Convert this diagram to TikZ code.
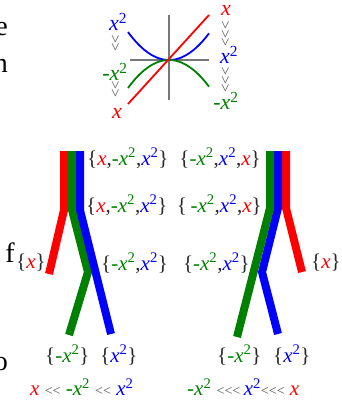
\documentclass[tikz,border=0pt]{standalone}
\usepackage{fontspec}
\setmainfont{Liberation Serif}
\definecolor{myred}{RGB}{255,0,0}
\definecolor{mygreen}{RGB}{0,128,0}
\definecolor{myblue}{RGB}{0,0,255}
\definecolor{ltgray}{RGB}{80,80,80}
\definecolor{brk}{RGB}{40,40,40}
\definecolor{axgray}{RGB}{120,120,120}
\newcommand\Rx{\textcolor{myred}{\textit{x}}}
\newcommand\Bx{\textcolor{myblue}{\textit{x}\textsuperscript{2}}}
\newcommand\Gx{\textcolor{mygreen}{-\textit{x}\textsuperscript{2}}}
\newcommand\Lb{\textcolor{brk}{\{}}
\newcommand\Rb{\textcolor{brk}{\}}}
\newcommand\Cm{\textcolor{brk}{,}}
\newcommand\LLtwo{{\fontsize{14}{14}\selectfont\textcolor{ltgray}{{<}{<}}}}
\newcommand\LLthree{{\fontsize{14}{14}\selectfont\textcolor{ltgray}{{<}{<}{<}}}}
\begin{document}
\begin{tikzpicture}[x=1pt,y=-1pt,
  lab/.style={inner sep=0pt, font=\fontsize{21}{24}\selectfont},
  tlab/.style={inner sep=0pt, font=\fontsize{22}{24}\selectfont},
  frag/.style={inner sep=0pt, font=\fontsize{28}{32}\selectfont, anchor=base east},
  vees/.style={inner sep=0pt, rotate=90, font=\fontsize{15}{15}\selectfont, text=ltgray},
  bar/.style={line width=8pt, line join=miter},
  axis/.style={axgray, line width=1.4pt},
  curve/.style={line width=1.8pt}]
\useasboundingbox (0,0) rectangle (341,402);
% clipped body-text fragments at left edge
\node[frag] (fe) at (8,35) {e};
\node[frag] (fn) at (8,72) {n};
\node[frag] (ff) at (15,262) {f};
\node[frag] (fo) at (8,370) {o};
% top plot
\coordinate (o) at (169,60);
\draw[axis] (130,60) -- (209,60);
\draw[axis] (169,15) -- (169,100);
\draw[curve, myblue, domain=-41:40, samples=50, smooth] plot ({169+\x},{60-28*(\x/41)^2});
\draw[curve, mygreen, domain=-41:40, samples=50, smooth] plot ({169+\x},{60+28*(\x/41)^2});
\draw[curve, myred] (128,104) -- (209,15);
\node[tlab] (tl1) at (118,22) {\Bx};
\node[vees] (tv1) at (116,43) {{<}{<}};
\node[tlab] (tl2) at (115,72) {\Gx};
\node[vees] (tv2) at (116,89) {{<}{<}};
\node[tlab] (tl3) at (117,113) {\Rx};
\node[tlab] (tr1) at (226,10) {\Rx};
\node[vees] (tv3) at (226,34) {{<}{<}{<}};
\node[tlab] (tr2) at (229,55) {\Bx};
\node[vees] (tv4) at (226,80) {{<}{<}{<}};
\node[tlab] (tr3) at (226,101) {\Gx};
% left tree
\draw[bar, myred] (64,151) -- (64,210) -- (49,274);
\draw[bar, mygreen] (72,151) -- (72,210) -- (88,272) -- (69,335);
\draw[bar, myblue] (80,151) -- (80,210) -- (111,334);
% right tree
\draw[bar, myred] (286,151) -- (286,208) -- (302,272);
\draw[bar, myblue] (278,151) -- (278,208) -- (262,272) -- (278,334);
\draw[bar, mygreen] (270,151) -- (270,208) -- (237,337);
% left labels
\node[lab, anchor=west] (l1) at (87,158) {\Lb\Rx\Cm\Gx\Cm\Bx\Rb};
\node[lab, anchor=west] (l2) at (86,205) {\Lb\Rx\Cm\Gx\Cm\Bx\Rb};
\node[lab, anchor=west] (l3) at (101,263) {\Lb\Gx\Cm\Bx\Rb};
\node[lab, anchor=west] (l4) at (16,263) {\Lb\Rx\Rb};
\node[lab, anchor=west] (l5) at (45,355) {\Lb\Gx\Rb};
\node[lab, anchor=west] (l6) at (100,355) {\Lb\Bx\Rb};
\node[lab, anchor=west] (l7) at (30,387) {\Rx\ \LLtwo\ \Gx\ \LLtwo\ \Bx};
% right labels
\node[lab, anchor=east] (r1) at (261,158) {\Lb\Gx\Cm\Bx\Cm\Rx\Rb};
\node[lab, anchor=east] (r2) at (262,205) {\Lb\,\Gx\Cm\Bx\Cm\Rx\Rb};
\node[lab, anchor=east] (r3) at (250,263) {\Lb\Gx\Cm\Bx\Rb};
\node[lab, anchor=west] (r4) at (311,263) {\Lb\Rx\Rb};
\node[lab, anchor=west] (r5) at (217,355) {\Lb\Gx\Rb};
\node[lab, anchor=west] (r6) at (273,355) {\Lb\Bx\Rb};
\node[lab, anchor=west] (r7) at (187,387) {\Gx\ \LLthree\,\Bx\LLthree\ \Rx};
\end{tikzpicture}
\end{document}
